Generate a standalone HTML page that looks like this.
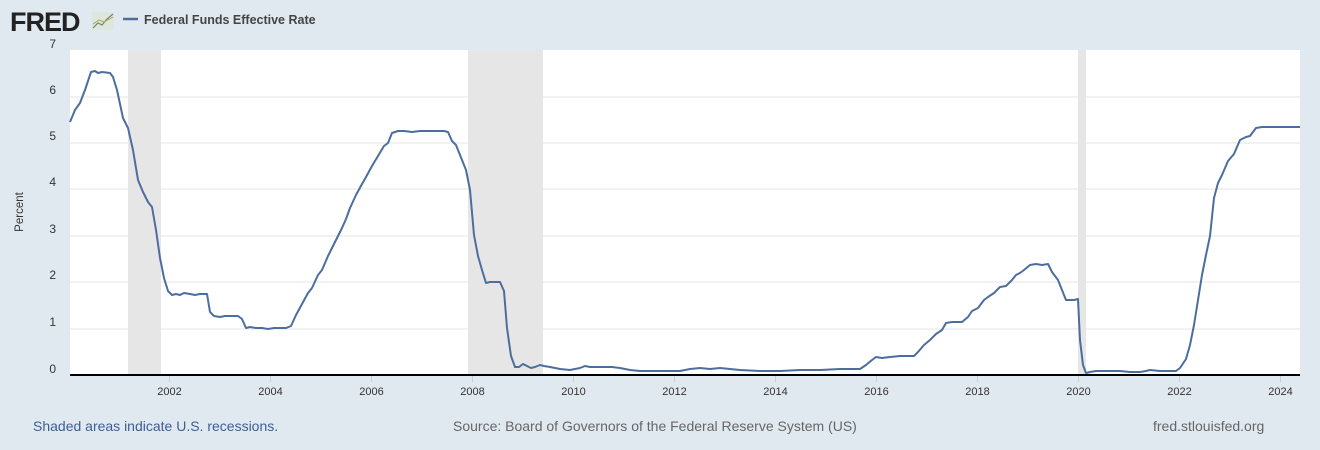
<!DOCTYPE html>
<html><head><meta charset="utf-8"><style>
html,body{margin:0;padding:0;width:1320px;height:450px;overflow:hidden;background:#e1e9f0;font-family:"Liberation Sans",Arial,sans-serif;}
.ft{position:absolute;top:418px;font-size:14px;}
</style></head><body>
<svg width="1320" height="450" style="position:absolute;left:0;top:0" font-family="Liberation Sans, Arial, sans-serif">
<text x="10" y="31" font-size="27" font-weight="bold" fill="#222" letter-spacing="-1">FRED</text>
<rect x="92" y="12" width="22" height="18" fill="#dfe6de"/>
<polyline points="93,28 98,23 102,25 107,19 113,14" fill="none" stroke="#6a8a6a" stroke-width="1.2"/>
<polyline points="93,24 99,20 104,22 113,17" fill="none" stroke="#b0a050" stroke-width="1"/>
<line x1="123" y1="19" x2="138" y2="19" stroke="#4c6e9e" stroke-width="2.5"/>
<text x="144" y="24" font-size="12.5" font-weight="bold" fill="#444">Federal Funds Effective Rate</text>
<rect x="70" y="50" width="1230" height="325" fill="#fff"/>
<rect x="128" y="50" width="33" height="325" fill="#e6e6e6"/>
<rect x="468" y="50" width="75" height="325" fill="#e6e6e6"/>
<rect x="1078" y="50" width="8" height="325" fill="#e6e6e6"/>
<g stroke="#e6e6e6" stroke-width="1">
<line x1="70" y1="97" x2="1300" y2="97"/><line x1="70" y1="143" x2="1300" y2="143"/><line x1="70" y1="189" x2="1300" y2="189"/><line x1="70" y1="236" x2="1300" y2="236"/><line x1="70" y1="282" x2="1300" y2="282"/><line x1="70" y1="329" x2="1300" y2="329"/>
</g>
<g font-size="12" fill="#333" text-anchor="end">
<text x="56" y="48">7</text><text x="56" y="94">6</text><text x="56" y="140">5</text><text x="56" y="186">4</text><text x="56" y="233">3</text><text x="56" y="279">2</text><text x="56" y="326">1</text><text x="56" y="373">0</text>
</g>
<text transform="translate(23,212) rotate(-90)" font-size="11.5" fill="#333" text-anchor="middle">Percent</text>
<polyline fill="none" stroke="#4c6e9e" stroke-width="2" stroke-linejoin="round" points="70,122 75,110 80,103 85,90 91,72 95,71 98,73 102,72 110,73 113,77 117,90 123,118 128,128 133,150 138,180 143,192 148,202 152,207 156,230 160,258 164,278 168,291 172,295 176,294 180,295 184,293 190,294 195,295 200,294 207,294 210,312 214,316 220,317 225,316 232,316 238,316 242,319 246,328 250,327 256,328 262,328 268,329 274,328 280,328 286,328 291,326 296,315 302,304 308,293 312,288 318,275 322,270 328,256 332,248 338,236 342,228 346,219 350,208 356,195 362,184 366,177 372,166 378,156 384,146 388,143 392,133 398,131 404,131 412,132 420,131 428,131 436,131 444,131 448,132 452,141 456,145 460,155 466,170 470,190 474,235 478,256 482,270 486,283 490,282 496,282 500,282 504,291 507,328 511,356 515,367 519,367 523,364 527,366 531,368 535,367 540,365 544,366 550,367 560,369 570,370 580,368 585,366 590,367 600,367 612,367 620,368 630,370 640,371 660,371 680,371 690,369 700,368 710,369 720,368 740,370 760,371 780,371 800,370 820,370 840,369 860,369 866,365 872,360 876,357 882,358 890,357 900,356 914,356 918,352 924,345 930,340 936,334 942,330 946,323 952,322 958,322 962,322 968,317 972,311 978,308 984,300 988,297 994,293 1000,287 1006,286 1012,280 1016,275 1020,273 1024,270 1030,265 1036,264 1042,265 1048,264 1052,272 1058,280 1062,290 1066,300 1074,300 1078,299 1080,340 1083,365 1086,373 1090,372 1096,371 1102,371 1110,371 1120,371 1130,372 1140,372 1146,371 1150,370 1160,371 1170,371 1176,371 1180,368 1186,359 1190,345 1194,325 1198,300 1202,275 1206,255 1210,236 1214,198 1218,183 1222,175 1228,161 1234,154 1240,140 1246,137 1250,136 1256,128 1262,127 1300,127"/>
<line x1="70" y1="375" x2="1300" y2="375" stroke="#000" stroke-width="2"/>
<g stroke="#ccc"><line x1="169.5" y1="376" x2="169.5" y2="382"/><line x1="270.5" y1="376" x2="270.5" y2="382"/><line x1="371.5" y1="376" x2="371.5" y2="382"/><line x1="472.5" y1="376" x2="472.5" y2="382"/><line x1="573.5" y1="376" x2="573.5" y2="382"/><line x1="674.5" y1="376" x2="674.5" y2="382"/><line x1="775.5" y1="376" x2="775.5" y2="382"/><line x1="876.5" y1="376" x2="876.5" y2="382"/><line x1="977.5" y1="376" x2="977.5" y2="382"/><line x1="1078.5" y1="376" x2="1078.5" y2="382"/><line x1="1179.5" y1="376" x2="1179.5" y2="382"/><line x1="1280.5" y1="376" x2="1280.5" y2="382"/></g>
<g font-size="11" fill="#333" text-anchor="middle">
<text x="169.5" y="395">2002</text><text x="270.5" y="395">2004</text><text x="371.5" y="395">2006</text><text x="472.5" y="395">2008</text><text x="573.5" y="395">2010</text><text x="674.5" y="395">2012</text><text x="775.5" y="395">2014</text><text x="876.5" y="395">2016</text><text x="977.5" y="395">2018</text><text x="1078.5" y="395">2020</text><text x="1179.5" y="395">2022</text><text x="1280.5" y="395">2024</text>
</g>
</svg>
<div class="ft" style="left:33px;color:#3d5e93">Shaded areas indicate U.S. recessions.</div>
<div class="ft" style="left:453px;color:#666">Source: Board of Governors of the Federal Reserve System (US)</div>
<div class="ft" style="left:1153px;color:#666">fred.stlouisfed.org</div>
</body></html>
